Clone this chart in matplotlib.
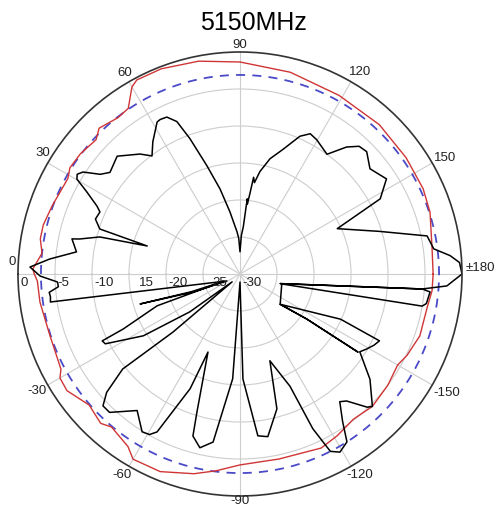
import numpy as np
import matplotlib.pyplot as plt

# radiation pattern data, angle in degrees, level in dB
blk_ang = [180, 177, 175, 172.6, 168.5, 163, 155, 151.8, 147, 141, 136, 133, 130, 126,
           119.7, 116.6, 113.5, 109, 104.6, 101, 99, 98, 97, 96, 95.5, 94, 92, 90, 88, 86,
           80.8, 76.8, 73, 69.7, 67.5, 65, 62.7, 61.4, 56.6, 53.3, 50.2, 43.8, 38, 35.5, 33,
           31.5, 30.2, 28.2, 25.4, 23.9, 20.8, 17.8, 16.8, 14.8, 12.3, 11.8, 7.7, 4.5, 1.9,
           -0.6, -2.5, -4.0, -5.5, -6.9, -8.4, -28, -21, -16.7, -20, -24,
           -21, -25.2, -25.9, -27.4, -32.6, -37, -45,
           -40.9, -39, -41.6, -43.9, -46.7, -53, -58.2, -60.6, -62.3, -66.5, -67.7,
           -72.7, -73.8, -77, -80.9, -86, -90,
           -91.6, -96.3, -99.7, -105.3, -109,
           -114, -115.2, -117, -119.3, -122.5, -124.8, -128, -130, -133.7, -135, -141,
           -147, -149.4, -152, -154.4, -155.8, -143, -146, -146.5, -146, -143,
           -166.6, -170, -171, -174.6, -175.3, -166.6, -175.3, -176.7, -180]
blk_db = [0.0, -0.3, -1.5, -3.6, -4.2, -10.3, -15.5, -8.5, -6.4, -7.4, -6.2, -6.4, -7.6, -10.0,
          -9.1, -8.8, -9.7, -12.2, -13.9, -15.9, -17.5, -16.8, -19.1, -20.5, -19.8, -23.6, -24.8,
          -27.0, -25.2, -24.3,
          -21.5, -18.2, -14.7, -10.5, -7.7, -6.6, -6.5, -6.6, -8.6, -10.1, -8.9, -7.0, -7.7, -6.8,
          -4.7, -4.2, -4.5, -6.5, -8.6, -9.3, -9.1, -10.1, -16.9, -10.4, -7.8, -6.8, -7.7, -4.2, -1.6,
          -3.0, -5.3, -5.4, -4.1, -4.2, -4.1, -28.0, -23.2, -15.9, -23.0, -27.5,
          -18.0, -12.6, -9.3, -9.5, -14.5, -21.5, -28.5,
          -18.0, -9.6, -5.9, -4.3, -4.3, -6.9, -4.9, -5.1, -5.9, -13.1, -18.6,
          -10.4, -7.2, -5.9, -7.0, -15.8, -28.9,
          -15.8, -8.0, -7.7, -11.1, -17.6,
          -13.4, -6.9, -3.1, -2.4, -3.1, -5.7, -8.1, -7.6, -5.1, -4.7, -7.4,
          -10.7, -10.1, -9.5, -9.1, -15.1, -23.2, -19.1, -10.9, -19.1, -23.2,
          -24.2, -5.0, -4.5, -4.2, -5.3, -24.4, -5.3, -2.0, 0.0]

red_ang = [-180, -175, -170, -161, -154, -150, -143, -135, -128, -121, -115, -102, -90, -83,
           -77, -68, -60, -57, -50, -47, -41, -34, -30, -28, -18, -8, -2, 0, 1.4, 6, 10, 14,
           20, 29, 32, 37, 43, 46, 52, 56, 60, 62, 69, 79, 90, 104, 119, 133, 145, 155, 162,
           172, 180]
red_db = [-3.9, -3.95, -4.3, -4.3, -4.9, -5.4, -5.0, -4.7, -5.1, -4.5, -4.05, -4.45, -4.2, -3.2,
          -2.3, -1.2, -1.1, -2.2, -3.0, -2.4, -3.0, -1.8, -1.9, -2.6, -3.0, -2.7, -2.6, -2.2, -2.0,
          -3.1, -2.6, -2.6, -3.0, -3.4, -2.9, -3.0, -3.4, -2.6, -3.2, -3.0, -0.8, -0.3, -0.3, -0.7,
          -1.35, -1.9, -2.4, -2.4, -2.6, -2.7, -3.0, -3.8, -3.9]

ref_level = -3.1  # dashed reference circle

theta_ticks = [0, 30, 60, 90, 120, 150, 180, -150, -120, -90, -60, -30]
theta_labels = ['0', '30', '60', '90', '120', '150', '\u00b1180', '-150', '-120', '-90', '-60', '-30']
r_ticks = [0, -5, -10, -15, -20, -25, -30]
r_labels = ['0', '-5', '-10', '15', '-20', '25', '-30']

# label placement: (angle, radius beyond the rim in dB units)
lab_pos = {'0': (3.3, 0.8), '30': (31.6, 1.35), '60': (60.3, 1.35), '90': (90, 1.1),
           '120': (120.6, 1.9), '150': (150.3, 1.9), '-150': (-150.3, 2.1),
           '-120': (-121, 1.5), '-90': (-90, 0.55), '-60': (-59.5, 1.35), '-30': (-29.7, 1.6)}

fig = plt.figure(figsize=(4.99, 5.10), dpi=100)
ax = fig.add_axes([18 / 499, 13 / 510, 444 / 499, 444 / 510], projection='polar')
ax.set_theta_zero_location('W')
ax.set_theta_direction(-1)
ax.set_ylim(-30, 0)

ax.set_xticks(np.radians(np.arange(0, 360, 30)))
ax.set_xticklabels([])
ax.set_yticks([-25, -20, -15, -10, -5])
ax.set_yticklabels([])
ax.grid(True, color='#cdcdcd', linewidth=0.8)
ax.spines['polar'].set_color('#333333')
ax.spines['polar'].set_linewidth(1.2)

full = np.radians(np.linspace(0, 360, 361))
ax.plot(full, np.full(full.shape, ref_level), color='#4a4ac8', lw=1.3, dashes=(5, 4))
ax.plot(np.radians(red_ang), red_db, color='#d03535', lw=1.0)
ax.plot(np.radians(blk_ang), blk_db, color='black', lw=1.1)

lab_font = ['Liberation Sans', 'DejaVu Sans']
for a, t in zip(theta_ticks, theta_labels):
    if t == '\u00b1180':
        ax.text(np.radians(178.3), 0.55, t, ha='left', va='center', fontsize=9.5,
                family=lab_font, color='#222222', clip_on=False)
        continue
    ang, rr = lab_pos[t]
    ax.text(np.radians(ang), rr, t, ha='center', va='center', fontsize=9.5,
            family=lab_font, color='#222222', clip_on=False)

for r, t in zip(r_ticks, r_labels):
    dx = 7 if t in ('15', '25') else 2
    ax.annotate(t, xy=(0, r), xytext=(dx, -6), textcoords='offset points',
                ha='left', va='center', fontsize=9.5, family=lab_font, color='#222222')

fig.text(253 / 499, 1 - 23 / 510, '5150MHz', ha='center', va='center', fontsize=18,
         family=['Liberation Sans', 'DejaVu Sans'])

fig.savefig('out.png', dpi=100)
